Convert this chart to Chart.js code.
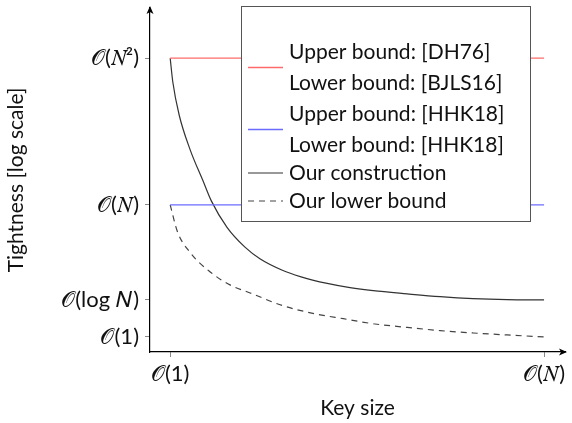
<!DOCTYPE html>
<html>
<head>
<meta charset="utf-8">
<script src="https://cdn.jsdelivr.net/npm/chart.js@4.4.0/dist/chart.umd.min.js"></script>
<style>
html, body { margin: 0; padding: 0; background: #fff; }
</style>
</head>
<body>
<canvas id="myChart" width="572" height="423"></canvas>
<script>
// tick positions on the abstract axes
const xTickValues = [0, 1];
const xTickLabels = ['𝒪(1)', '𝒪(𝑁\u200A)'];
const yTickValues = [0, 0.28, 1, 2.11];
const yTickLabels = ['𝒪(1)', '𝒪(log 𝑁\u200A)', '𝒪(𝑁\u200A)', '𝒪(𝑁²)'];

// bounds from the literature (flat lines)
const boundX = [0, 1];
const boundDH76 = [2.11, 2.11];
const boundHHK18 = [1, 1];

// our construction
const constructionX = [0, 0.007, 0.024, 0.053, 0.088, 0.11, 0.152, 0.2, 0.241, 0.3, 0.348, 0.42, 0.481, 0.543, 0.634, 0.722, 0.81, 0.901, 1];
const constructionY = [2.11, 1.93, 1.68, 1.42, 1.18, 1.03, 0.83, 0.68, 0.59, 0.505, 0.457, 0.405, 0.373, 0.35, 0.326, 0.305, 0.29, 0.282, 0.28];

// our lower bound
const lowerX = [0, 0.019, 0.053, 0.107, 0.16, 0.214, 0.302, 0.393, 0.463, 0.543, 0.634, 0.722, 0.81, 0.901, 1];
const lowerY = [1.0, 0.8, 0.64, 0.492, 0.394, 0.333, 0.236, 0.172, 0.138, 0.1, 0.072, 0.048, 0.03, 0.015, 0];

const legendLabels = [
    ['Upper bound: [DH76]', 'Lower bound: [BJLS16]'],
    ['Upper bound: [HHK18]', 'Lower bound: [HHK18]'],
    ['Our construction'],
    ['Our lower bound']
];

const FONT = 'Lato';

function pts(xs, ys) {
    return xs.map(function (x, i) { return { x: x, y: ys[i] }; });
}

// box legend with multi-line entries, drawn over the plot
const boxLegend = {
    id: 'boxLegend',
    afterDatasetsDraw(chart) {
        const ctx = chart.ctx;
        const rows = [52, 83, 114, 145, 173, 201];
        let r = 0;
        ctx.save();
        ctx.fillStyle = '#fff';
        ctx.strokeStyle = '#555';
        ctx.lineWidth = 1;
        ctx.fillRect(241.5, 6.5, 289, 215);
        ctx.strokeRect(241.5, 6.5, 289, 215);
        ctx.font = '21px ' + FONT;
        ctx.textBaseline = 'middle';
        chart.data.datasets.forEach(function (ds, i) {
            const lines = legendLabels[i];
            const first = rows[r];
            const last = rows[r + lines.length - 1];
            const midY = (first + last) / 2;
            ctx.beginPath();
            ctx.strokeStyle = ds.borderColor;
            ctx.lineWidth = ds.borderWidth;
            ctx.setLineDash(ds.borderDash || []);
            ctx.moveTo(248, midY);
            ctx.lineTo(283, midY);
            ctx.stroke();
            ctx.setLineDash([]);
            ctx.fillStyle = '#111';
            lines.forEach(function (t, k) {
                ctx.fillText(t, 289, rows[r + k]);
            });
            r += lines.length;
        });
        ctx.restore();
    },
    afterDraw(chart) {
        // arrow heads on both axes
        const ctx = chart.ctx;
        const a = chart.chartArea;
        ctx.save();
        ctx.fillStyle = '#000';
        ctx.beginPath();
        ctx.moveTo(a.left, a.top - 2);
        ctx.lineTo(a.left - 3.5, a.top + 6);
        ctx.lineTo(a.left, a.top + 4);
        ctx.lineTo(a.left + 3.5, a.top + 6);
        ctx.closePath();
        ctx.fill();
        ctx.beginPath();
        ctx.moveTo(a.right + 2, a.bottom);
        ctx.lineTo(a.right - 6, a.bottom - 3.5);
        ctx.lineTo(a.right - 4, a.bottom);
        ctx.lineTo(a.right - 6, a.bottom + 3.5);
        ctx.closePath();
        ctx.fill();
        ctx.restore();
    }
};

const ctx = document.getElementById('myChart');

new Chart(ctx, {
    type: 'line',
    data: {
        datasets: [{
            label: legendLabels[0].join(' / '),
            data: pts(boundX, boundDH76),
            borderColor: '#ff6b6b',
            borderWidth: 1.3,
            pointRadius: 0
        }, {
            label: legendLabels[1].join(' / '),
            data: pts(boundX, boundHHK18),
            borderColor: '#6b6bff',
            borderWidth: 1.3,
            pointRadius: 0
        }, {
            label: legendLabels[2][0],
            data: pts(constructionX, constructionY),
            borderColor: '#333',
            borderWidth: 1.2,
            pointRadius: 0,
            cubicInterpolationMode: 'monotone'
        }, {
            label: legendLabels[3][0],
            data: pts(lowerX, lowerY),
            borderColor: '#444',
            borderWidth: 1.2,
            borderDash: [6, 5],
            pointRadius: 0,
            cubicInterpolationMode: 'monotone'
        }]
    },
    options: {
        responsive: false,
        animation: false,
        layout: { padding: { top: 8, right: 7, left: 4, bottom: 0 } },
        plugins: {
            legend: { display: false },
            tooltip: { enabled: false }
        },
        scales: {
            x: {
                type: 'linear',
                min: -0.054,
                max: 1.056,
                afterFit: function (s) { s.height = 71; s.paddingLeft = 0; s.paddingRight = 0; },
                afterBuildTicks: function (s) {
                    s.ticks = xTickValues.map(function (v) { return { value: v }; });
                },
                ticks: {
                    color: '#111',
                    padding: 4,
                    maxRotation: 0,
                    font: { family: FONT, size: 22 },
                    callback: function (v, i) { return xTickLabels[i]; }
                },
                grid: { drawOnChartArea: false, color: '#888', tickLength: 5 },
                border: { color: '#000', width: 1.2 },
                title: {
                    display: true, text: 'Key size', color: '#111',
                    font: { family: FONT, size: 21 }, padding: { top: 0, bottom: 2 }
                }
            },
            y: {
                type: 'linear',
                min: -0.114,
                max: 2.49,
                afterFit: function (s) { s.width = 146; s.paddingTop = 0; s.paddingBottom = 0; },
                afterBuildTicks: function (s) {
                    s.ticks = yTickValues.map(function (v) { return { value: v }; });
                },
                ticks: {
                    color: '#111',
                    padding: 6,
                    font: { family: FONT, size: 22 },
                    callback: function (v, i) { return yTickLabels[i]; }
                },
                grid: { drawOnChartArea: false, color: '#888', tickLength: 5 },
                border: { color: '#000', width: 1.2 },
                title: {
                    display: true, text: 'Tightness [log scale]', color: '#111',
                    font: { family: FONT, size: 21 }, padding: { top: 0, bottom: 4 }
                }
            }
        }
    },
    plugins: [boxLegend]
});
</script>
</body>
</html>
